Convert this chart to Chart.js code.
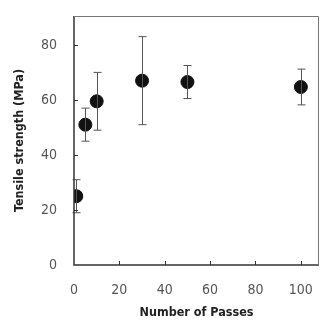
<!DOCTYPE html>
<html>
<head>
<meta charset="utf-8">
<script src="https://cdn.jsdelivr.net/npm/chart.js@4.4.1/dist/chart.umd.min.js"></script>
<style>
  html, body { margin: 0; padding: 0; background: #fff; }
  #wrap { width: 321px; height: 320px; }
</style>
</head>
<body>
<div id="wrap"><canvas id="chart" width="321" height="320"></canvas></div>
<script>
// Data
const passes = [1, 5, 10, 30, 50, 100];
const strength = [25, 51, 59.5, 67, 66.5, 64.7];
const errors = [6, 6, 10.5, 16, 6, 6.5];
const xTicks = [0, 20, 40, 60, 80, 100];
const yTicks = [0, 20, 40, 60, 80];

const FONT = '"Liberation Sans Narrow", "DejaVu Sans Condensed", Arial, sans-serif';

// Error bars, inner tick marks and the top/right frame
const extras = {
    id: 'extras',
    afterDatasetsDraw(chart) {
        const ctx = chart.ctx;
        const xs = chart.scales.x, ys = chart.scales.y;
        const a = chart.chartArea;
        ctx.save();
        // error bars
        ctx.strokeStyle = '#555';
        ctx.lineWidth = 1;
        passes.forEach((p, i) => {
            const x = Math.round(xs.getPixelForValue(p)) + 0.5;
            const t = ys.getPixelForValue(strength[i] + errors[i]);
            const b = ys.getPixelForValue(strength[i] - errors[i]);
            ctx.beginPath();
            ctx.moveTo(x, t); ctx.lineTo(x, b);
            ctx.moveTo(x - 4, t); ctx.lineTo(x + 4, t);
            ctx.moveTo(x - 4, b); ctx.lineTo(x + 4, b);
            ctx.stroke();
        });
        // frame
        ctx.strokeStyle = '#333';
        ctx.lineWidth = 1.5;
        ctx.beginPath();
        ctx.moveTo(a.left, a.top); ctx.lineTo(a.left, a.bottom); ctx.lineTo(a.right, a.bottom);
        ctx.stroke();
        ctx.strokeStyle = '#777';
        ctx.lineWidth = 1;
        ctx.beginPath();
        ctx.moveTo(a.left, a.top + 0.5); ctx.lineTo(a.right - 0.5, a.top + 0.5); ctx.lineTo(a.right - 0.5, a.bottom);
        ctx.stroke();
        // inner ticks
        ctx.strokeStyle = '#333';
        ctx.lineWidth = 1;
        ctx.beginPath();
        xTicks.forEach(v => {
            if (v === 0) return;
            const x = Math.round(xs.getPixelForValue(v)) + 0.5;
            ctx.moveTo(x, a.bottom); ctx.lineTo(x, a.bottom - 4);
        });
        yTicks.forEach(v => {
            if (v === 0) return;
            const y = Math.round(ys.getPixelForValue(v)) + 0.5;
            ctx.moveTo(a.left, y); ctx.lineTo(a.left + 4, y);
        });
        ctx.stroke();
        ctx.restore();
    }
};

function noPad(s) {
    s.paddingTop = 0; s.paddingBottom = 0; s.paddingLeft = 0; s.paddingRight = 0;
}

new Chart(document.getElementById('chart'), {
    type: 'scatter',
    data: {
        datasets: [{
            data: passes.map((p, i) => ({ x: p, y: strength[i] })),
            backgroundColor: '#111',
            borderColor: '#111',
            pointRadius: 6.5,
            pointHoverRadius: 6.5
        }]
    },
    options: {
        responsive: false,
        animation: false,
        layout: { autoPadding: false, padding: { top: 16, right: 2, left: 0, bottom: 0 } },
        plugins: { legend: { display: false }, tooltip: { enabled: false } },
        scales: {
            x: {
                type: 'linear',
                min: 0, max: 108,
                afterBuildTicks: s => { s.ticks = xTicks.map(v => ({ value: v })); },
                afterFit: s => { s.height = 55; noPad(s); },
                grid: { display: false, drawTicks: false },
                border: { display: false },
                ticks: { color: '#555', padding: 17, font: { family: FONT, size: 14 } },
                title: { display: true, text: 'Number of Passes', color: '#222', padding: { top: 4, bottom: 0 },
                         font: { family: FONT, size: 12.5, weight: 'bold' } }
            },
            y: {
                min: 0, max: 90.5,
                afterBuildTicks: s => { s.ticks = yTicks.map(v => ({ value: v })); },
                afterFit: s => { s.width = 74; noPad(s); },
                grid: { display: false, drawTicks: false },
                border: { display: false },
                ticks: { color: '#555', padding: 17, font: { family: FONT, size: 14 } },
                title: { display: true, text: 'Tensile strength (MPa)', color: '#222', padding: { top: 12, bottom: 0 },
                         font: { family: FONT, size: 12.5, weight: 'bold' } }
            }
        }
    },
    plugins: [extras]
});
</script>
</body>
</html>
